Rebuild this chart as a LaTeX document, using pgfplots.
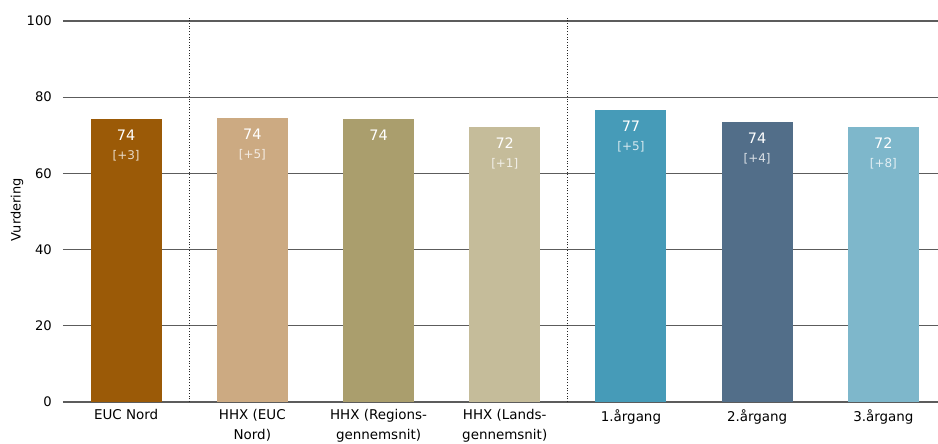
\documentclass[border=0pt]{standalone}
\usepackage{fontspec}
\setmainfont{DejaVu Sans}
\usepackage{pgfplots}
\pgfplotsset{compat=1.18}

\definecolor{c1}{HTML}{9B5A07}
\definecolor{c2}{HTML}{CCAA82}
\definecolor{c3}{HTML}{AA9E6D}
\definecolor{c4}{HTML}{C5BC9A}
\definecolor{c5}{HTML}{469BB8}
\definecolor{c6}{HTML}{526E89}
\definecolor{c7}{HTML}{7EB7CB}
\definecolor{gridgray}{HTML}{5C5C5C}

% change against previous year, set a bit lighter under the value
\newcommand\br[2]{\textcolor{white!78!#1}{\fontsize{12}{13}\selectfont[#2]}}

\begin{document}
\begin{tikzpicture}
\begin{axis}[
    scale only axis,
    width=875bp, height=384.8bp,
    xmin=-0.5, xmax=6.433,
    ymin=0, ymax=101,
    ybar, bar width=71bp, bar shift=0pt,
    axis lines=left,
    axis line style={draw=none},
    major tick length=0pt,
    ytick={0,20,...,100},
    ymajorgrids,
    major grid style={gridgray, line width=1.1bp},
    xtick={0,...,6},
    xticklabels={EUC Nord, {HHX (EUC\\Nord)}, {HHX (Regions-\\gennemsnit)},
        {HHX (Lands-\\gennemsnit)}, 1.årgang, 2.årgang, 3.årgang},
    xticklabel style={align=center, anchor=north, inner sep=0pt, yshift=-7bp,
        font=\fontsize{13.5}{20}\selectfont},
    yticklabel style={anchor=east, inner sep=0pt, xshift=-11bp,
        font=\fontsize{13.2}{15}\selectfont},
    /pgf/number format/assume math mode=true,
    extra x ticks={0.5,3.5},
    extra x tick labels={},
    extra x tick style={grid=major,
        major grid style={black!85, line width=0.9bp, dash pattern=on 0.9bp off 1.8bp}},
    ylabel={Vurdering},
    ylabel style={at={(axis description cs:-0.0526,0.5)}, anchor=center,
        font=\fontsize{13}{15}\selectfont},
    point meta=explicit symbolic,
    nodes near coords,
    every node near coord/.append style={anchor=north, inner sep=0pt, yshift=-11bp,
        align=center, text=white, font=\fontsize{14.5}{19}\selectfont},
]
\addplot[fill=c1, draw=none] coordinates {(0,74.3) [{74\\\br{c1}{+3}}]};
\addplot[fill=c2, draw=none] coordinates {(1,74.5) [{74\\\br{c2}{+5}}]};
\addplot[fill=c3, draw=none] coordinates {(2,74.3) [74]};
\addplot[fill=c4, draw=none] coordinates {(3,72.2) [{72\\\br{c4}{+1}}]};
\addplot[fill=c5, draw=none] coordinates {(4,76.6) [{77\\\br{c5}{+5}}]};
\addplot[fill=c6, draw=none] coordinates {(5,73.5) [{74\\\br{c6}{+4}}]};
\addplot[fill=c7, draw=none] coordinates {(6,72.2) [{72\\\br{c7}{+8}}]};
\end{axis}
\pgfresetboundingbox
\path[use as bounding box] (-63bp,-42bp) rectangle (875bp,402bp);
\end{tikzpicture}
\end{document}
